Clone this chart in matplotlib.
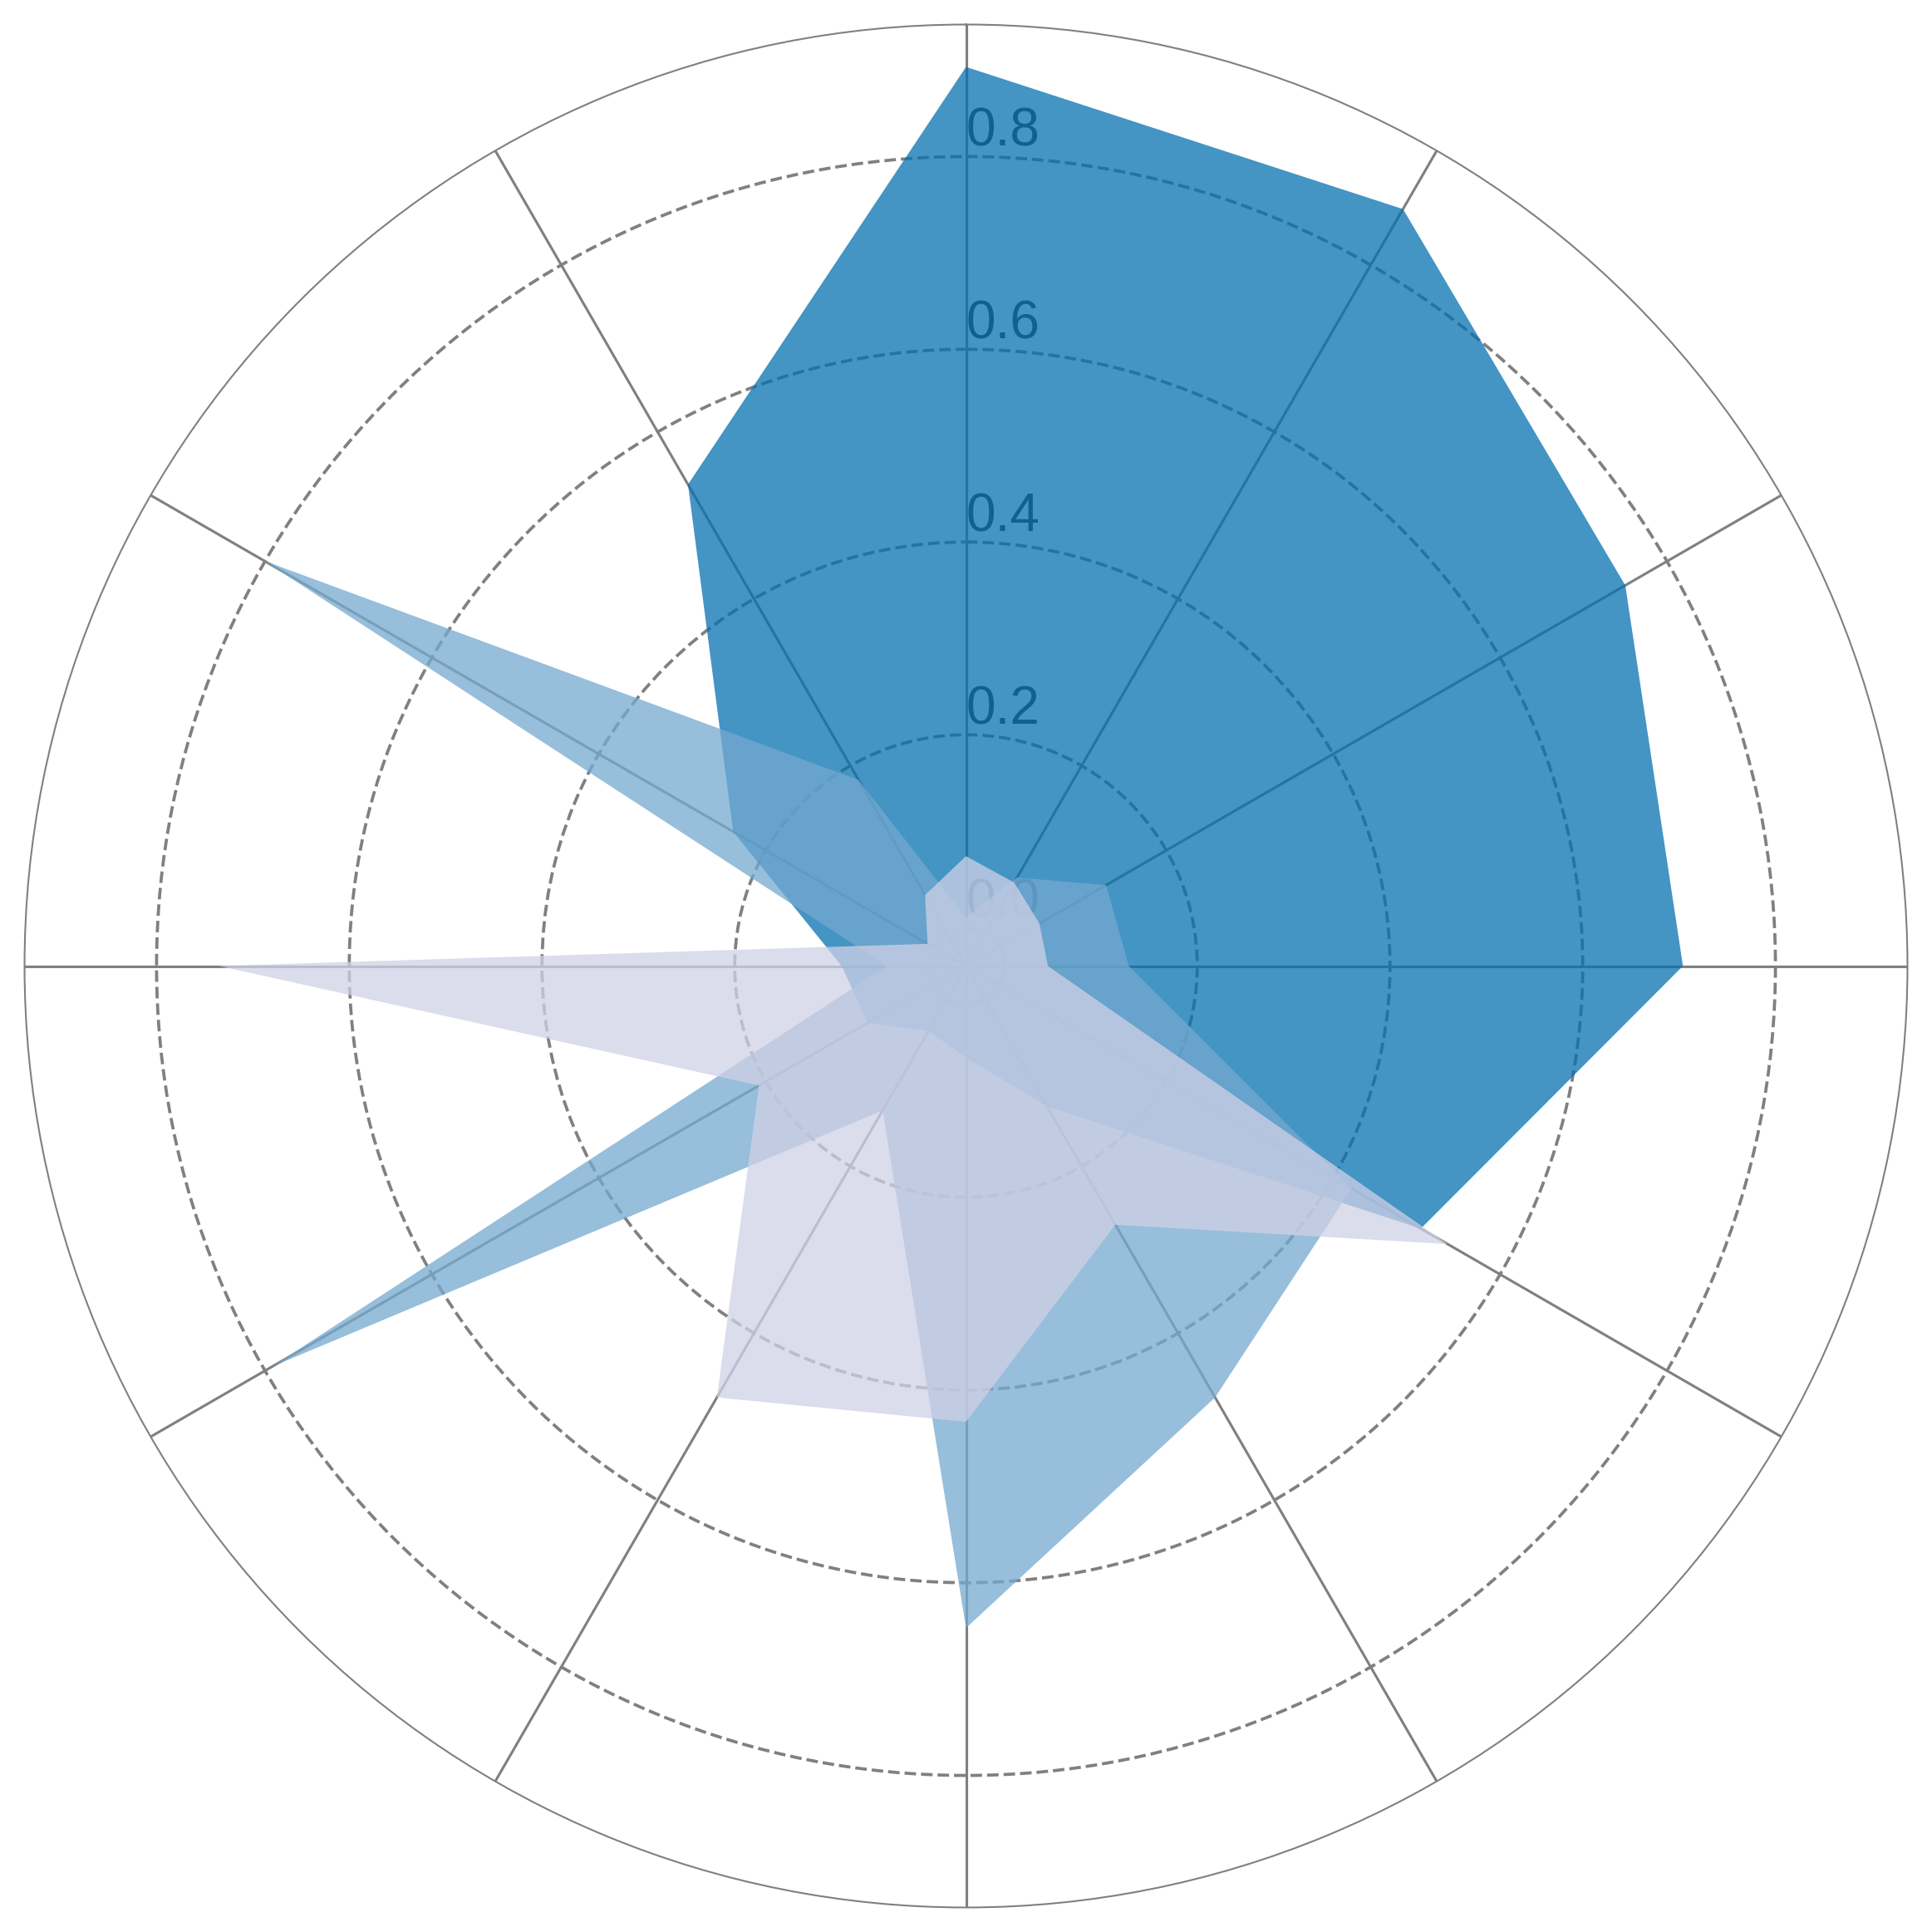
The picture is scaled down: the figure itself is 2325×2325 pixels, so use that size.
import numpy as np
import matplotlib
matplotlib.use("Agg")
import matplotlib.pyplot as plt

plt.rcParams["font.family"] = ["Liberation Sans", "DejaVu Sans"]

# 12 directions, clockwise from north (degrees)
angles_deg = [0, 30, 60, 90, 120, 150, 180, 210, 240, 270, 300, 330]

series_a = [0.893, 0.867, 0.750, 0.704, 0.505, 0.128, 0.055, 0.038, 0.078, 0.089, 0.239, 0.537]
series_b = [0.010, 0.066, 0.128, 0.129, 0.422, 0.477, 0.647, 0.133, 0.791, 0.042, 0.801, 0.183]
series_c = [0.074, 0.060, 0.048, 0.045, 0.537, 0.270, 0.433, 0.477, 0.208, 0.735, 0.006, 0.045]

colors = ["#0570b0", "#74a9cf", "#d0d1e6"]
r_ticks = [0.0, 0.2, 0.4, 0.6, 0.8]

theta = np.deg2rad(angles_deg + [angles_deg[0]])

fig = plt.figure(figsize=(7.75, 7.75), dpi=300)
ax = fig.add_axes([0.0127, 0.0127, 0.9746, 0.9746], projection="polar")
ax.set_theta_zero_location("N")
ax.set_theta_direction(-1)
ax.set_axisbelow(True)

for vals, col in zip([series_a, series_b, series_c], colors):
    ax.fill(theta, vals + [vals[0]], color=col, alpha=0.75, linewidth=0)

ax.set_ylim(-0.04, 0.937)
ax.set_yticks(r_ticks)
ax.set_yticklabels([f"{t:.1f}" for t in r_ticks], fontsize=15.3, color="#333333")
ax.set_rlabel_position(0)
ax.set_xticks(np.deg2rad(angles_deg))
ax.set_xticklabels([])
ax.tick_params(axis="both", length=0)

ax.xaxis.grid(True, color="gray", linestyle="-", linewidth=0.75)
ax.yaxis.grid(True, color="gray", linestyle="--", linewidth=0.9)
ax.spines["polar"].set_color("gray")
ax.spines["polar"].set_linewidth(0.5)

plt.savefig("out.png", dpi=300)
plt.close()
